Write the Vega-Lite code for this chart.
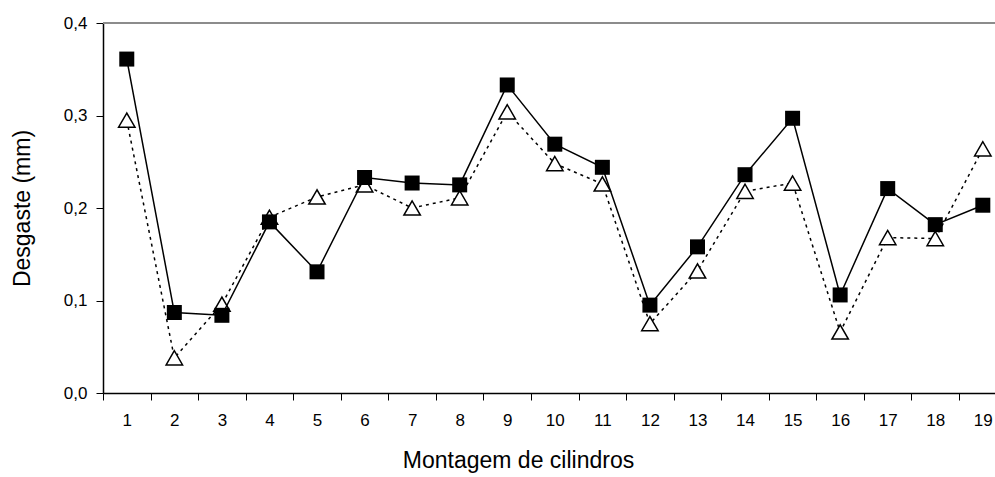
{
  "$schema": "https://vega.github.io/schema/vega-lite/v6.json",
  "width": 892,
  "height": 370,
  "autosize": {"type": "none"},
  "padding": {"left": 103, "top": 23, "right": 0, "bottom": 84},
  "config": {
    "font": "Liberation Sans",
    "view": {"stroke": null}
  },
  "data": {
    "values": [
      {"c": 1, "s": "A", "v": 0.361}, {"c": 2, "s": "A", "v": 0.087}, {"c": 3, "s": "A", "v": 0.084},
      {"c": 4, "s": "A", "v": 0.185}, {"c": 5, "s": "A", "v": 0.131}, {"c": 6, "s": "A", "v": 0.233},
      {"c": 7, "s": "A", "v": 0.227}, {"c": 8, "s": "A", "v": 0.225}, {"c": 9, "s": "A", "v": 0.333},
      {"c": 10, "s": "A", "v": 0.269}, {"c": 11, "s": "A", "v": 0.244}, {"c": 12, "s": "A", "v": 0.095},
      {"c": 13, "s": "A", "v": 0.158}, {"c": 14, "s": "A", "v": 0.236}, {"c": 15, "s": "A", "v": 0.297},
      {"c": 16, "s": "A", "v": 0.106}, {"c": 17, "s": "A", "v": 0.221}, {"c": 18, "s": "A", "v": 0.182},
      {"c": 19, "s": "A", "v": 0.203},
      {"c": 1, "s": "B", "v": 0.295}, {"c": 2, "s": "B", "v": 0.038}, {"c": 3, "s": "B", "v": 0.096},
      {"c": 4, "s": "B", "v": 0.190}, {"c": 5, "s": "B", "v": 0.212}, {"c": 6, "s": "B", "v": 0.225},
      {"c": 7, "s": "B", "v": 0.200}, {"c": 8, "s": "B", "v": 0.211}, {"c": 9, "s": "B", "v": 0.304},
      {"c": 10, "s": "B", "v": 0.248}, {"c": 11, "s": "B", "v": 0.226}, {"c": 12, "s": "B", "v": 0.075},
      {"c": 13, "s": "B", "v": 0.132}, {"c": 14, "s": "B", "v": 0.218}, {"c": 15, "s": "B", "v": 0.227},
      {"c": 16, "s": "B", "v": 0.066}, {"c": 17, "s": "B", "v": 0.168}, {"c": 18, "s": "B", "v": 0.167},
      {"c": 19, "s": "B", "v": 0.264}
    ]
  },
  "encoding": {
    "x": {
      "field": "c",
      "type": "ordinal",
      "scale": {"type": "band", "range": [0, 903.6], "paddingInner": 0, "paddingOuter": 0},
      "axis": {
        "title": "Montagem de cilindros",
        "labelAngle": 0,
        "tickBand": "extent",
        "domainColor": "black",
        "domainWidth": 1.5,
        "tickColor": "black",
        "tickWidth": 1,
        "tickSize": 7,
        "labelFontSize": 17,
        "labelColor": "black",
        "labelPadding": 12,
        "titleFontSize": 23,
        "titleFontWeight": "normal",
        "titleColor": "black",
        "titleX": 415,
        "titleY": 56,
        "grid": false
      }
    },
    "y": {
      "field": "v",
      "type": "quantitative",
      "scale": {"domain": [0, 0.4]},
      "axis": {
        "title": "Desgaste (mm)",
        "values": [0, 0.1, 0.2, 0.3, 0.4],
        "labelExpr": "replace(format(datum.value, '.1f'), '.', ',')",
        "domainColor": "black",
        "domainWidth": 1.5,
        "tickColor": "black",
        "tickWidth": 1,
        "tickSize": 7,
        "labelFontSize": 17,
        "labelColor": "black",
        "labelPadding": 9,
        "titleFontSize": 23,
        "titleFontWeight": "normal",
        "titleColor": "black",
        "titlePadding": 29,
        "grid": false
      }
    }
  },
  "layer": [
    {
      "mark": {"type": "rule", "color": "#8c8c8c", "strokeWidth": 1.5},
      "encoding": {"y": {"datum": 0.4}, "x": null}
    },
    {
      "transform": [{"filter": "datum.s == 'B'"}],
      "mark": {"type": "line", "color": "black", "strokeDash": [3, 4], "strokeWidth": 1.5}
    },
    {
      "transform": [{"filter": "datum.s == 'B'"}],
      "mark": {"type": "point", "shape": "triangle-up", "filled": true, "fill": "white", "stroke": "black", "strokeWidth": 1.5, "size": 270, "opacity": 1}
    },
    {
      "transform": [{"filter": "datum.s == 'A'"}],
      "mark": {"type": "line", "color": "black", "strokeWidth": 1.5}
    },
    {
      "transform": [{"filter": "datum.s == 'A'"}],
      "mark": {"type": "square", "color": "black", "size": 225, "opacity": 1}
    }
  ]
}
